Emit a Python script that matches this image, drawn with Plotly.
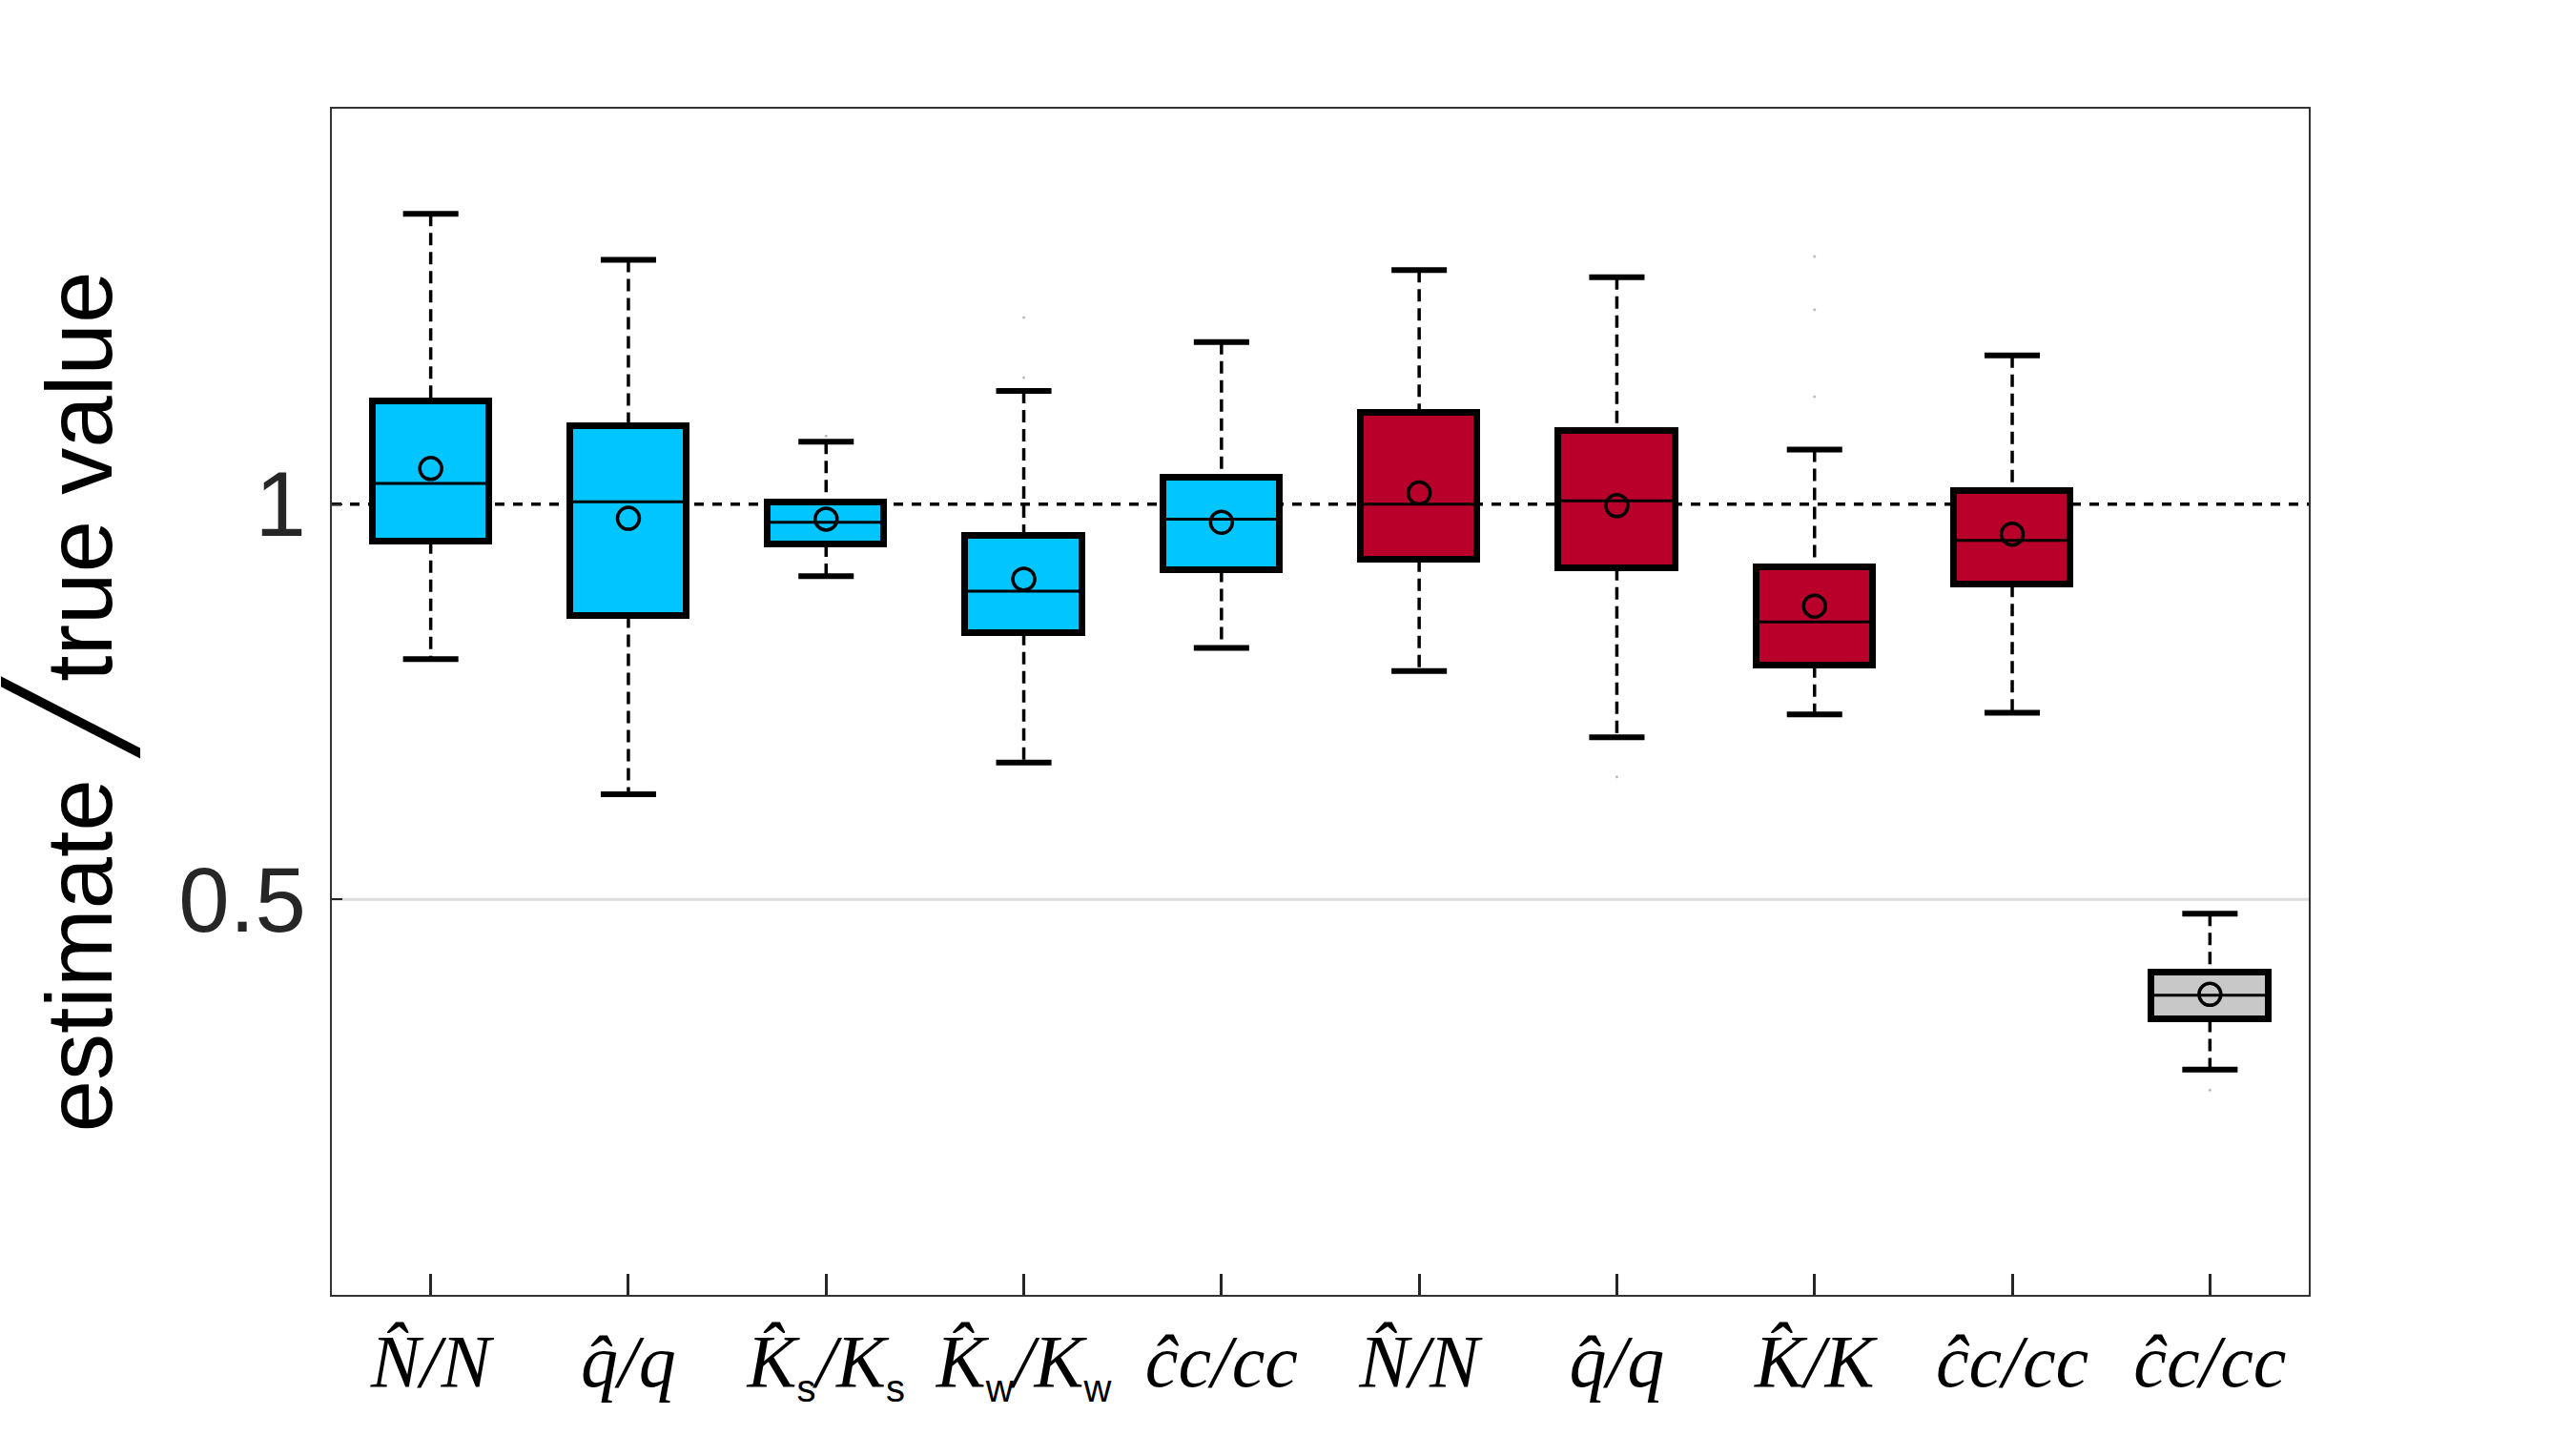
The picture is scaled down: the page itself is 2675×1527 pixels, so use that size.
import plotly.graph_objects as go

# ---- data ----
SUB = "<sub><span style='font-family:Liberation Sans;font-style:normal;font-size:40px'>{}</span></sub>"
labels = [
    "<i>N\u0302/N</i>",
    "<i>q\u0302/q</i>",
    "<i>K\u0302</i>" + SUB.format("s") + "<i>/K</i>" + SUB.format("s"),
    "<i>K\u0302</i>" + SUB.format("w") + "<i>/K</i>" + SUB.format("w"),
    "<i>\u0109c/cc</i>",
    "<i>N\u0302/N</i>",
    "<i>q\u0302/q</i>",
    "<i>K\u0302/K</i>",
    "<i>\u0109c/cc</i>",
    "<i>\u0109c/cc</i>",
]
groups = ["blue", "blue", "blue", "blue", "blue", "red", "red", "red", "red", "gray"]
lower_whisker = [0.804, 0.633, 0.909, 0.673, 0.818, 0.789, 0.705, 0.734, 0.736, 0.285]
q1 =            [0.953, 0.859, 0.949, 0.837, 0.917, 0.930, 0.919, 0.796, 0.898, 0.348]
median =        [1.026, 1.003, 0.977, 0.890, 0.981, 1.000, 1.004, 0.851, 0.954, 0.379]
mean =          [1.045, 0.982, 0.981, 0.905, 0.977, 1.014, 0.998, 0.871, 0.962, 0.380]
q3 =            [1.130, 1.098, 1.002, 0.960, 1.033, 1.115, 1.093, 0.920, 1.016, 0.407]
upper_whisker = [1.367, 1.309, 1.079, 1.143, 1.205, 1.296, 1.287, 1.069, 1.188, 0.482]
outlier_x = [3, 4, 4, 7, 8, 8, 8, 10]
outlier_y = [1.086, 1.236, 1.160, 0.655, 1.313, 1.246, 1.136, 0.259]
y_ticks = [0.5, 1]
y_ticktext = ["0.5", "1"]
grid_values = [0.5]
reference_value = 1

colors = {"blue": "#00C5FF", "red": "#B8002A", "gray": "#C8C8C8"}
positions = list(range(1, len(labels) + 1))
box_half = 0.295
cap_half = 0.14

fig = go.Figure()

# whiskers (dashed), drawn outside the boxes
wx, wy = [], []
for p, lo, a, b, hi in zip(positions, lower_whisker, q1, q3, upper_whisker):
    wx += [p, p, None, p, p, None]
    wy += [hi, b, None, a, lo, None]
fig.add_trace(go.Scatter(x=wx, y=wy, mode="lines",
                         line=dict(color="black", width=3.5, dash="13px,7px"),
                         hoverinfo="skip", showlegend=False))
# whisker caps
cx, cy = [], []
for p, lo, hi in zip(positions, lower_whisker, upper_whisker):
    cx += [p - cap_half, p + cap_half, None, p - cap_half, p + cap_half, None]
    cy += [hi, hi, None, lo, lo, None]
fig.add_trace(go.Scatter(x=cx, y=cy, mode="lines",
                         line=dict(color="black", width=6),
                         hoverinfo="skip", showlegend=False))

# boxes
fig.add_trace(go.Bar(
    x=positions,
    y=[b - a for a, b in zip(q1, q3)],
    base=q1,
    width=2 * box_half,
    marker=dict(color=[colors[g] for g in groups], line=dict(color="black", width=7)),
    showlegend=False,
))

# medians
mx, my = [], []
for p, m in zip(positions, median):
    mx += [p - box_half, p + box_half, None]
    my += [m, m, None]
fig.add_trace(go.Scatter(x=mx, y=my, mode="lines",
                         line=dict(color="black", width=3),
                         hoverinfo="skip", showlegend=False))

# means
fig.add_trace(go.Scatter(x=positions, y=mean, mode="markers",
                         marker=dict(symbol="circle-open", size=23, color="black",
                                     line=dict(width=3.5, color="black")),
                         showlegend=False))

# faint outliers
fig.add_trace(go.Scatter(x=outlier_x, y=outlier_y, mode="markers",
                         marker=dict(size=3, color="#bbbbbb"),
                         showlegend=False))

# light grid line(s) and dotted reference line, drawn beneath the data
for g in grid_values:
    fig.add_shape(type="line", xref="paper", x0=0, x1=1, yref="y", y0=g, y1=g,
                  line=dict(color="#dcdcdc", width=3), layer="below")
fig.add_shape(type="line", xref="paper", x0=0, x1=1, yref="y",
              y0=reference_value, y1=reference_value,
              line=dict(color="black", width=3.5, dash="10px,9px"), layer="below")

fig.update_layout(
    width=2675, height=1527,
    margin=dict(l=348, r=254, t=114, b=169),
    paper_bgcolor="white", plot_bgcolor="white",
    bargap=0,
    xaxis=dict(
        range=[0.5, 10.5], tickvals=positions, ticktext=labels,
        ticks="inside", ticklen=22, tickwidth=3, tickcolor="#262626",
        showline=True, linecolor="#333333", linewidth=2, mirror=True,
        showgrid=False, zeroline=False,
        tickfont=dict(family="Liberation Serif", size=78, color="black"),
        ticklabelstandoff=0,
    ),
    yaxis=dict(
        range=[0, 1.5], tickvals=y_ticks, ticktext=y_ticktext,
        ticks="inside", ticklen=11, tickwidth=2, tickcolor="#262626",
        showline=True, linecolor="#333333", linewidth=2, mirror=True,
        showgrid=False, zeroline=False,
        tickfont=dict(family="Liberation Sans", size=96, color="#262626"),
        ticklabelstandoff=6,
        title=dict(
            text="\u00a0\u200aestimate <span style='font-family:DejaVu Sans Mono;font-size:125px'>\u2571</span>true value",
            font=dict(family="Liberation Sans", size=98, color="black"),
            standoff=80,
        ),
    ),
)

fig.write_html("out.html")
